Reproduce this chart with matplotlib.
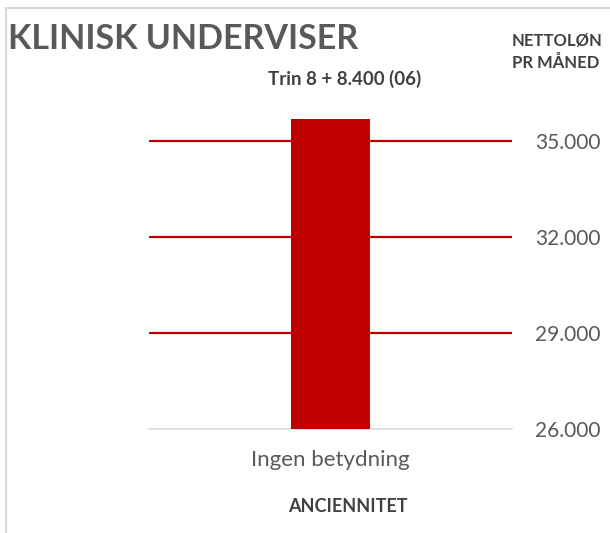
"""Klinisk underviser: nettoløn pr måned, én søjle."""

import matplotlib.pyplot as plt
from matplotlib.lines import Line2D
from matplotlib.ticker import FuncFormatter

CATEGORIES = ["Ingen betydning"]
NETTOLOEN = [35700]
Y_TICKS = [26000, 29000, 32000, 35000]

RED = "#C00000"
GREY_TEXT = "#595959"
DARK_TEXT = "#404040"
BORDER = "#D9D9D9"

plt.rcParams["font.family"] = ["Lato", "DejaVu Sans"]

fig = plt.figure(figsize=(6.10, 5.33), dpi=100)
ax = fig.add_axes([149 / 610, 104 / 533, 363 / 610, 320 / 533])

ax.bar(range(len(CATEGORIES)), NETTOLOEN, width=0.22, color=RED, zorder=3)
ax.set_xlim(-0.5, 0.5)
ax.set_ylim(26000, 36000)

ax.set_yticks(Y_TICKS)
ax.yaxis.set_major_formatter(FuncFormatter(lambda v, _: f"{v:,.0f}".replace(",", ".")))
ax.yaxis.tick_right()
ax.tick_params(axis="y", length=0, pad=16.5, labelsize=15, labelcolor=GREY_TEXT)
ax.set_xticks(range(len(CATEGORIES)))
ax.set_xticklabels(CATEGORIES)
ax.tick_params(axis="x", length=0, pad=15, labelsize=16, labelcolor=GREY_TEXT)

for v in Y_TICKS[1:]:
    ax.axhline(v, color=RED, linewidth=1.6, zorder=2)

for side in ("top", "left", "right"):
    ax.spines[side].set_visible(False)
ax.spines["bottom"].set_color(BORDER)
ax.spines["bottom"].set_linewidth(1.2)

fig.text(348 / 610, 1 - 507 / 533, "ANCIENNITET", fontsize=13, fontweight="bold",
         color=DARK_TEXT, va="center", ha="center")
fig.text(8 / 610, 1 - 39 / 533, "KLINISK UNDERVISER", fontsize=24.5, fontweight="bold",
         color=GREY_TEXT, va="center", ha="left")
fig.text(345 / 610, 1 - 79 / 533, "Trin 8 + 8.400 (06)", fontsize=13.5, fontweight="bold",
         color=DARK_TEXT, va="center", ha="center")
fig.text(512 / 610, 1 - 52 / 533, "NETTOLØN\nPR MÅNED", fontsize=12, fontweight="bold",
         color=DARK_TEXT, va="center", ha="left", linespacing=1.4)

# chart frame, only left and top edges are inside the crop
fig.add_artist(Line2D([6 / 610, 6 / 610], [0, 1 - 8 / 533], color=BORDER, linewidth=1.5))
fig.add_artist(Line2D([6 / 610, 1], [1 - 8 / 533, 1 - 8 / 533], color=BORDER, linewidth=1.5))

fig.savefig("out.png", dpi=100, facecolor="white")
